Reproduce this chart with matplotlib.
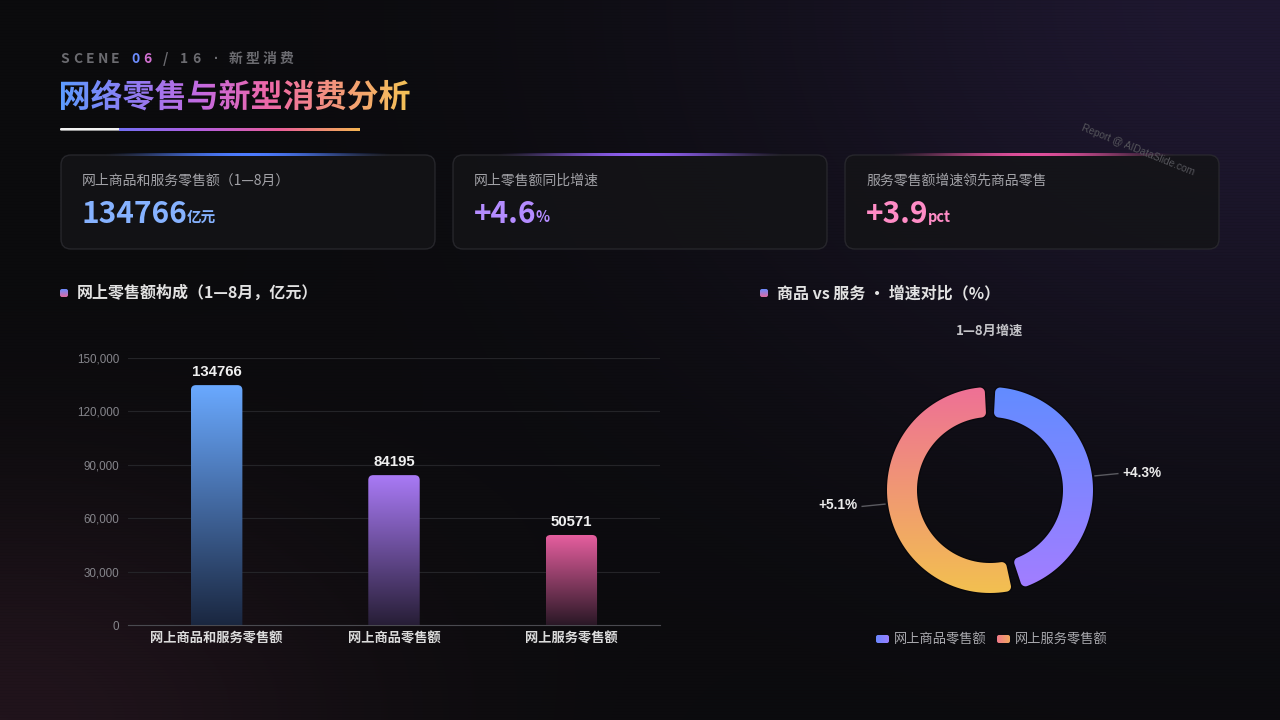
import numpy as np
import matplotlib
matplotlib.use('Agg')
import matplotlib.pyplot as plt
from matplotlib.patches import FancyBboxPatch, PathPatch, Polygon
from matplotlib.textpath import TextPath
from matplotlib.font_manager import FontProperties
from matplotlib.colors import to_rgb
from matplotlib.transforms import Affine2D

plt.rcParams['font.family'] = ['Liberation Sans', 'Noto Sans CJK SC', 'DejaVu Sans']
CJK = ['Noto Sans CJK SC', 'DejaVu Sans']

# ---- data ----
title = '网络零售与新型消费分析'
bar_labels = ['网上商品和服务零售额', '网上商品零售额', '网上服务零售额']
bar_values = [134766, 84195, 50571]
bar_top = ['#6aa9ff', '#a97af6', '#e85fa0']
bar_bottom = ['#1a2740', '#271e36', '#2a1826']
yticks = [0, 30000, 60000, 90000, 120000, 150000]

ring_labels = ['网上商品零售额', '网上服务零售额']
ring_values = [4.3, 5.1]
ring_text = ['+4.3%', '+5.1%']
ring_grad = [['#628cff', '#a47dff'], ['#ee7096', '#f3c050']]
legend_grad = [['#6a88ff', '#9a80ff'], ['#f07a8a', '#f0a860']]

kpi_labels = ['网上商品和服务零售额（1—8月）', '网上零售额同比增速', '服务零售额增速领先商品零售']
kpi_values = ['134766', '+4.6', '+3.9']
kpi_units = ['亿元', '%', 'pct']
kpi_colors = ['#86b2ff', '#b48cff', '#ff8cc6']
kpi_glow = ['#4d7cff', '#8f5ff0', '#e0509c']

W, H = 1280, 720


def grad_img(ax, extent, colors, horizontal=False, clip=None, alpha=None, zorder=2, n=256):
    cols = np.array([to_rgb(c) for c in colors])
    t = np.linspace(0, 1, n)
    pos = np.linspace(0, 1, len(cols))
    arr = np.stack([np.interp(t, pos, cols[:, k]) for k in range(3)], axis=-1)
    if alpha is not None:
        arr = np.concatenate([arr, alpha[:, None]], axis=-1)
    img = arr[None, :, :] if horizontal else arr[:, None, :]
    im = ax.imshow(img, extent=extent, origin='upper', aspect='auto',
                   interpolation='bilinear', zorder=zorder)
    if clip is not None:
        im.set_clip_path(clip)
    return im


def ring_sector(cx, cy, R, r, a1, a2, rc, n=80):
    d_o = np.degrees(np.arcsin(rc / (R - rc)))
    d_i = np.degrees(np.arcsin(rc / (r + rc)))

    def arc(c, rad, s, e, m=12):
        th = np.radians(np.linspace(s, e, m))
        return np.column_stack([c[0] + rad * np.cos(th), c[1] + rad * np.sin(th)])

    def pol(rad, ang):
        return (rad * np.cos(np.radians(ang)), rad * np.sin(np.radians(ang)))

    pts = [arc((0, 0), R, a1 + d_o, a2 - d_o, n),
           arc(pol(R - rc, a2 - d_o), rc, a2 - d_o, a2 + 90),
           arc(pol(r + rc, a2 - d_i), rc, a2 + 90, a2 - d_i + 180),
           arc((0, 0), r, a2 - d_i, a1 + d_i, n),
           arc(pol(r + rc, a1 + d_i), rc, a1 + d_i + 180, a1 + 270),
           arc(pol(R - rc, a1 + d_o), rc, a1 - 90, a1 + d_o)]
    p = np.vstack(pts)
    return np.column_stack([cx + p[:, 0], cy - p[:, 1]])


# ---- background ----
yy, xx = np.mgrid[0:H, 0:W]
bg = np.zeros((H, W, 3))
bg[:] = np.array([11, 11, 13]) / 255
g1 = np.exp(-(((xx - 1280) / 560) ** 2 + (yy / 430) ** 2))
bg += g1[..., None] * np.array([20, 13, 36]) / 255
g2 = np.exp(-((xx / 360) ** 2 + ((yy - 720) / 230) ** 2))
bg += g2[..., None] * np.array([22, 9, 15]) / 255
bg[::3] *= 0.94

fig = plt.figure(figsize=(12.8, 7.2), dpi=100)
ax = fig.add_axes([0, 0, 1, 1])
ax.imshow(bg, extent=(0, W, H, 0), origin='upper', aspect='auto', zorder=0)
ax.axis('off')

# ---- header ----
hdr = [('S', 60), ('C', 73), ('E', 86), ('N', 98), ('E', 111), ('0', 131), ('6', 143),
       ('/', 163), ('1', 180), ('6', 192), ('·', 216), ('新', 229), ('型', 246), ('消', 263), ('费', 280)]
for i, (ch, hx) in enumerate(hdr):
    col = '#6b6b70'
    if i == 5:
        col = '#6d8dff'
    elif i == 6:
        col = '#d070d0'
    ax.text(hx, 59, ch, fontsize=10, fontweight='bold', color=col,
            family=['Liberation Sans'] + CJK if ch == '·' else CJK,
            ha='center' if ch == '·' else 'left', va='center')

# gradient title via text path
fp = FontProperties(family='Noto Sans CJK SC', weight='bold')
tp = TextPath((0, 0), title, size=32, prop=fp)
ext = tp.get_extents()
tr = Affine2D().translate(-ext.x0, -(ext.y0 + ext.y1) / 2).scale(1, -1).translate(61, 95)
tpath = tr.transform_path(tp)
tpatch = PathPatch(tpath, fc='none', ec='none', transform=ax.transData)
ax.add_patch(tpatch)
grad_img(ax, (60, 61 + ext.width + 2, 115, 75),
         ['#5c9cff', '#8f7cf4', '#c46ae0', '#ee68a6', '#f49a78', '#f5c455'],
         horizontal=True, clip=tpatch, zorder=3)

# underline
ax.add_patch(FancyBboxPatch((60, 128), 60, 2.6, boxstyle='round,pad=0,rounding_size=1.2',
                            fc='#f2f2f2', ec='none', zorder=3))
grad_img(ax, (119, 360, 130.6, 128), ['#7470f4', '#b35ee0', '#ec5f9a', '#f5b552'],
         horizontal=True, zorder=3)

# ---- KPI cards ----
card_x = [61, 453, 845]
card_w, card_y, card_h = 374, 155, 94
val_texts = []
for i in range(3):
    cx0 = card_x[i]
    ax.add_patch(FancyBboxPatch((cx0, card_y), card_w, card_h,
                                boxstyle='round,pad=0,rounding_size=10',
                                fc='#141417', ec='#2a2a2f', lw=1, alpha=0.85, zorder=2))
    t = np.linspace(0, 1, 256)
    a = np.sin(np.pi * t) ** 1.6
    grad_img(ax, (cx0 + 40, cx0 + card_w - 40, 156.5, 154.3), [kpi_glow[i], kpi_glow[i]],
             horizontal=True, alpha=a, zorder=3)
    ax.text(cx0 + 21, 181, kpi_labels[i], fontsize=10, color='#a2a2a7', family=CJK,
            ha='left', va='center', zorder=4)
    vt = ax.text(cx0 + 21, 223, kpi_values[i], fontsize=21.5, fontweight='bold',
                 color=kpi_colors[i], family=CJK, ha='left', va='baseline', zorder=4)
    val_texts.append(vt)

ax.text(1138, 150, 'Report @ AIDataSlide.com', fontsize=7.3, color='#55555b',
        rotation=-22, ha='center', va='center', rotation_mode='anchor', zorder=4)

# ---- section headers ----
for sx, label in [(60, '网上零售额构成（1—8月，亿元）'), (760, '商品 vs 服务 · 增速对比（%）')]:
    mk = FancyBboxPatch((sx, 289), 8, 8, boxstyle='round,pad=0,rounding_size=2',
                        fc='none', ec='none', transform=ax.transData)
    ax.add_patch(mk)
    grad_img(ax, (sx, sx + 8, 297, 289), ['#6a8cff', '#e06aa0'], clip=mk, zorder=3)
    ax.text(sx + 17, 293, label, fontsize=11.5, fontweight='bold', color='#e2e2e2',
            family=CJK, ha='left', va='center')

# ---- donut ----
cx, cy, R, r = 990, 490, 103, 73
pad = 3.0
total = sum(ring_values)
start = 90.0
for v, cols, txt in zip(ring_values, ring_grad, ring_text):
    span = 360 * v / total
    a2 = start - pad
    a1 = start - span + pad
    verts = ring_sector(cx, cy, R, r, a1, a2, 5)
    shadow = Polygon(verts, closed=True, fc='none', ec='#000000', lw=2, alpha=0.35, zorder=3)
    ax.add_patch(shadow)
    poly = Polygon(verts, closed=True, fc='none', ec='none', transform=ax.transData)
    ax.add_patch(poly)
    grad_img(ax, (cx - R, cx + R, cy + R, cy - R), cols, clip=poly, zorder=4)
    mid = np.radians(start - span / 2)
    side = np.sign(np.cos(mid))
    p0 = (cx + (R + 3) * np.cos(mid), cy - (R + 3) * np.sin(mid))
    p1 = (cx + (R + 26) * np.cos(mid), cy - (R + 20) * np.sin(mid))
    ax.plot([p0[0], p1[0]], [p0[1], p1[1]], color='#5a5a60', lw=1, zorder=4)
    ax.text(p1[0] + 5 * side, p1[1] - 1, txt, fontsize=9.8, fontweight='bold', color='#ececec',
            ha='left' if side > 0 else 'right', va='center', zorder=5)
    start -= span

ax.text(cx, 331, '1—8月增速', fontsize=9.5, fontweight='bold', color='#c4c4c8',
        family=CJK, ha='center', va='center')

for lx, lab, cols in zip([876, 997], ring_labels, legend_grad):
    mk = FancyBboxPatch((lx, 635), 13, 8, boxstyle='round,pad=0,rounding_size=2',
                        fc='none', ec='none', transform=ax.transData)
    ax.add_patch(mk)
    grad_img(ax, (lx, lx + 13, 643, 635), cols, horizontal=True, clip=mk, zorder=3)
    ax.text(lx + 18, 639, lab, fontsize=9.5, color='#a8a8ad', family=CJK,
            ha='left', va='center')

ax.set_xlim(0, W)
ax.set_ylim(H, 0)

# units after the KPI values
fig.canvas.draw()
renderer = fig.canvas.get_renderer()
for vt, unit, col in zip(val_texts, kpi_units, kpi_colors):
    bb = vt.get_window_extent(renderer)
    ax.text(bb.x1 - 1, 222, unit, fontsize=10.5, fontweight='bold', color=col,
            family=CJK, ha='left', va='baseline', zorder=4)

# ---- bar chart ----
bx = fig.add_axes([128 / W, 1 - 625 / H, 532 / W, 267 / H])
bx.set_facecolor('none')
xpos = np.arange(len(bar_values))
bars = bx.bar(xpos, bar_values, width=0.29, color='none', zorder=3)
for b, c0, c1 in zip(bars, bar_top, bar_bottom):
    x0, w, h = b.get_x(), b.get_width(), b.get_height()
    patch = FancyBboxPatch((x0, -6000), w, h + 6000, boxstyle='round,pad=0,rounding_size=0.028',
                           mutation_aspect=99600, fc='none', ec='none', transform=bx.transData)
    bx.add_patch(patch)
    grad_img(bx, (x0, x0 + w, 0, h), [c0, c1], clip=patch, zorder=3)
for xi, v in zip(xpos, bar_values):
    bx.text(xi, v + 3400, str(v), ha='center', va='bottom', fontsize=10.8,
            fontweight='bold', color='#f0f0f0', clip_on=False)

bx.set_xlim(-0.5, 2.5)
bx.set_ylim(0, 150000)
bx.set_yticks(yticks)
bx.set_yticklabels([f'{v:,}' for v in yticks])
bx.set_xticks(xpos)
bx.set_xticklabels(bar_labels, fontweight='bold', family=CJK)
bx.tick_params(axis='y', length=0, pad=6.5, labelsize=8.4, labelcolor='#85858b')
bx.tick_params(axis='x', length=0, pad=4, labelsize=9.5, labelcolor='#dcdcdc')
bx.grid(axis='y', color='#242428', lw=0.8)
bx.set_axisbelow(True)
for s in ['left', 'top', 'right']:
    bx.spines[s].set_visible(False)
bx.spines['bottom'].set_color('#4a4a50')

fig.savefig('out.png', dpi=100, facecolor='#0b0b0d')
